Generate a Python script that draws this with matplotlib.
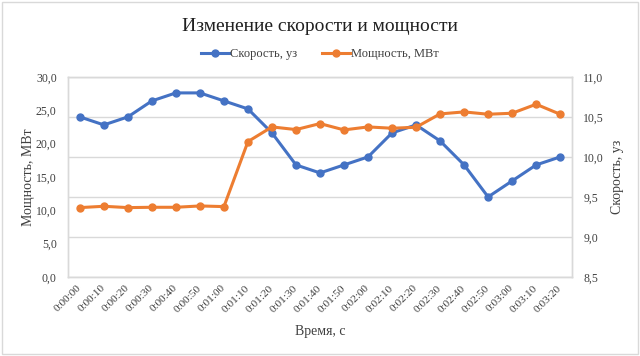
import numpy as np
import matplotlib
matplotlib.use("Agg")
import matplotlib.pyplot as plt
from matplotlib.patches import Rectangle
from matplotlib.ticker import FuncFormatter, MultipleLocator

plt.rcParams["font.family"] = ["Liberation Serif", "DejaVu Serif"]

# data
times = ["0:00:00", "0:00:10", "0:00:20", "0:00:30", "0:00:40", "0:00:50",
         "0:01:00", "0:01:10", "0:01:20", "0:01:30", "0:01:40", "0:01:50",
         "0:02:00", "0:02:10", "0:02:20", "0:02:30", "0:02:40", "0:02:50",
         "0:03:00", "0:03:10", "0:03:20"]
speed = [10.5, 10.4, 10.5, 10.7, 10.8, 10.8, 10.7, 10.6, 10.3, 9.9, 9.8,
         9.9, 10.0, 10.3, 10.4, 10.2, 9.9, 9.5, 9.7, 9.9, 10.0]
power = [10.4, 10.6, 10.4, 10.45, 10.45, 10.65, 10.55, 20.3, 22.5, 22.1, 23.0,
         22.05, 22.5, 22.3, 22.45, 24.45, 24.75, 24.4, 24.55, 25.9, 24.4]

blue = "#4472C4"
orange = "#ED7D31"
grid_c = "#D9D9D9"
text_c = "#404040"

x = np.arange(len(times))

fig = plt.figure(figsize=(6.4, 3.56), dpi=100)
ax = fig.add_axes([0.106, 0.222, 0.788, 0.562])
ax2 = ax.twinx()
# speed axis (with the grid) sits behind the power axis
ax2.set_zorder(ax.get_zorder() - 1)
ax.patch.set_visible(False)

l2, = ax2.plot(x, speed, color=blue, lw=2.2, marker="o", ms=5, label="Скорость, уз")
l1, = ax.plot(x, power, color=orange, lw=2.2, marker="o", ms=5, label="Мощность, МВт")

ax.set_xlim(-0.5, len(times) - 0.5)
ax.set_ylim(0, 30)
ax2.set_ylim(8.5, 11.0)
ax.yaxis.set_major_locator(MultipleLocator(5))
ax2.yaxis.set_major_locator(MultipleLocator(0.5))

comma = FuncFormatter(lambda v, p: f"{v:.1f}".replace(".", ","))
ax.yaxis.set_major_formatter(comma)
ax2.yaxis.set_major_formatter(comma)

# labels at the category centres, grid lines at the category borders
ax.set_xticks(x)
ax.set_xticks(np.arange(-0.5, len(times), 1.0), minor=True)
ax.set_xticklabels(times, rotation=45, ha="right", va="center", rotation_mode="anchor")
ax2.xaxis.grid(False, which="major")
ax2.xaxis.grid(True, which="minor", color=grid_c, lw=1)
ax2.yaxis.grid(True, which="major", color=grid_c, lw=1)
ax2.tick_params(axis="x", which="both", length=0, labelbottom=False)

ax.tick_params(axis="x", which="both", length=0)
ax.tick_params(axis="x", pad=7, labelsize=8.2, colors=text_c)
ax.tick_params(axis="y", length=0, pad=8, labelsize=8.5, colors=text_c)
ax2.tick_params(axis="y", length=0, pad=8, labelsize=8.5, colors=text_c)

for a in (ax, ax2):
    for s in a.spines.values():
        s.set_color(grid_c)
        s.set_linewidth(1)

ax.set_xlabel("Время, с", fontsize=10, color=text_c, labelpad=8)
ax.set_ylabel("Мощность, МВт", fontsize=10, color=text_c, labelpad=1)
ax2.set_ylabel("Скорость, уз", fontsize=10, color=text_c, labelpad=5)

fig.text(0.5, 0.925, "Изменение скорости и мощности", ha="center", va="center",
         fontsize=14, color="#202020")
fig.legend(handles=[l2, l1], loc="center", bbox_to_anchor=(0.5, 0.848), ncol=2,
           frameon=False, fontsize=9, handlelength=2.2, handletextpad=0.1,
           columnspacing=2.0, labelcolor=text_c)

fig.patches.append(Rectangle((0.003, 0.006), 0.994, 0.988, transform=fig.transFigure,
                             fill=False, edgecolor=grid_c, lw=1))

fig.savefig("out.png", dpi=100)
